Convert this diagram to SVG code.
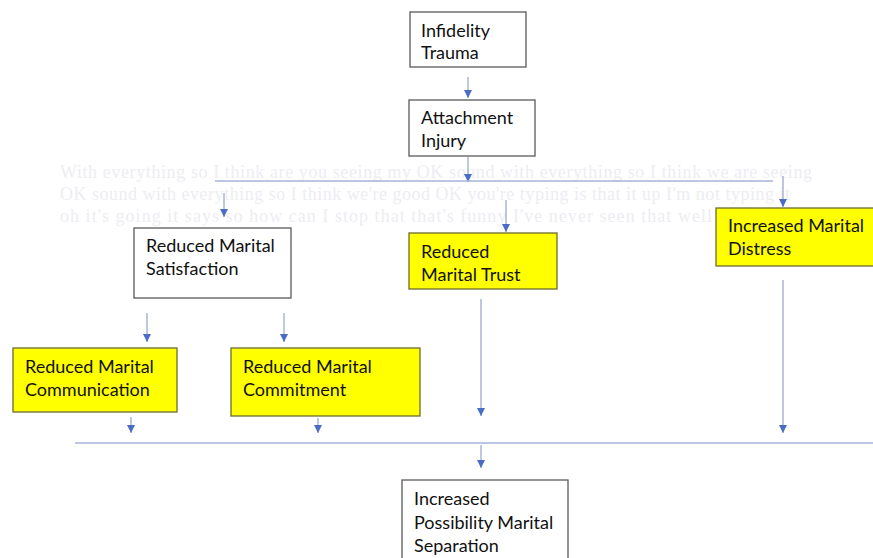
<svg xmlns="http://www.w3.org/2000/svg" width="873" height="558" viewBox="0 0 873 558">
<defs>
<marker id="ah" viewBox="0 0 10 10" refX="10" refY="5" markerWidth="9" markerHeight="8" markerUnits="userSpaceOnUse" orient="auto">
<path d="M0,0 L10,5 L0,10 z" fill="#4a6cc4"/>
</marker>
<style>
.box{fill:#ffffff;stroke:#5a5a5a;stroke-width:1.3}
.ybox{fill:#ffff00;stroke:#6b6b30;stroke-width:1.3}
.t{font-family:Lato,"Liberation Sans",sans-serif;font-size:18px;fill:#111}
.ghost{font-family:"Liberation Serif",serif;font-size:18px;fill:#ededf2}
.c{stroke:#a7b5d6;stroke-width:1.5;fill:none}
.a{stroke:#a7b5d6;stroke-width:1.5;fill:none;marker-end:url(#ah)}
</style>
</defs>
<rect width="873" height="558" fill="#ffffff"/>
<g id="ghost-text">
<text class="ghost" x="60" y="178" textLength="752" lengthAdjust="spacing">With everything so I think are you seeing my OK sound with everything so I think we are seeing</text>
<text class="ghost" x="60" y="200" textLength="730" lengthAdjust="spacing">OK sound with everything so I think we're good OK you're typing is that it up I'm not typing it</text>
<text class="ghost" x="60" y="222" textLength="652" lengthAdjust="spacing">oh it's going it says so how can I stop that that's funny I've never seen that well</text>
</g>
<g id="connectors">
<line class="a" x1="468" y1="77" x2="468" y2="98"/>
<line class="a" x1="468" y1="157" x2="468" y2="182"/>
<line class="c" x1="215" y1="181" x2="773" y2="181"/>
<line class="a" x1="224" y1="193" x2="224" y2="217"/>
<line class="a" x1="506" y1="200" x2="506" y2="232"/>
<line class="a" x1="783" y1="176" x2="783" y2="207"/>
<line class="a" x1="147" y1="313" x2="147" y2="342"/>
<line class="a" x1="284" y1="313" x2="284" y2="342"/>
<line class="a" x1="131" y1="417" x2="131" y2="433"/>
<line class="a" x1="318" y1="418" x2="318" y2="433"/>
<line class="a" x1="481" y1="299" x2="481" y2="416"/>
<line class="a" x1="783" y1="280" x2="783" y2="433"/>
<line class="c" x1="75" y1="443" x2="873" y2="443"/>
<line class="a" x1="481" y1="445" x2="481" y2="468"/>
</g>
<g id="infidelity-trauma">
<rect class="box" x="410" y="12" width="116" height="55"/>
<text class="t" x="421" y="37">Infidelity</text>
<text class="t" x="421" y="59">Trauma</text>
</g>
<g id="attachment-injury">
<rect class="box" x="409" y="100" width="126" height="56"/>
<text class="t" x="421" y="124">Attachment</text>
<text class="t" x="421" y="147">Injury</text>
</g>
<g id="reduced-marital-satisfaction">
<rect class="box" x="134" y="228" width="157" height="70"/>
<text class="t" x="146" y="252">Reduced Marital</text>
<text class="t" x="146" y="275">Satisfaction</text>
</g>
<g id="reduced-marital-trust">
<rect class="ybox" x="409" y="233" width="148" height="56"/>
<text class="t" x="421" y="258">Reduced</text>
<text class="t" x="421" y="281">Marital Trust</text>
</g>
<g id="increased-marital-distress">
<rect class="ybox" x="716" y="208" width="165" height="58"/>
<text class="t" x="728" y="232">Increased Marital</text>
<text class="t" x="728" y="255">Distress</text>
</g>
<g id="reduced-marital-communication">
<rect class="ybox" x="13" y="348" width="164" height="64"/>
<text class="t" x="25" y="373">Reduced Marital</text>
<text class="t" x="25" y="396">Communication</text>
</g>
<g id="reduced-marital-commitment">
<rect class="ybox" x="231" y="348" width="189" height="68"/>
<text class="t" x="243" y="373">Reduced Marital</text>
<text class="t" x="243" y="396">Commitment</text>
</g>
<g id="increased-possibility-marital-separation">
<rect class="box" x="402" y="480" width="166" height="90"/>
<text class="t" x="414" y="505">Increased</text>
<text class="t" x="414" y="529">Possibility Marital</text>
<text class="t" x="414" y="552">Separation</text>
</g>
</svg>
